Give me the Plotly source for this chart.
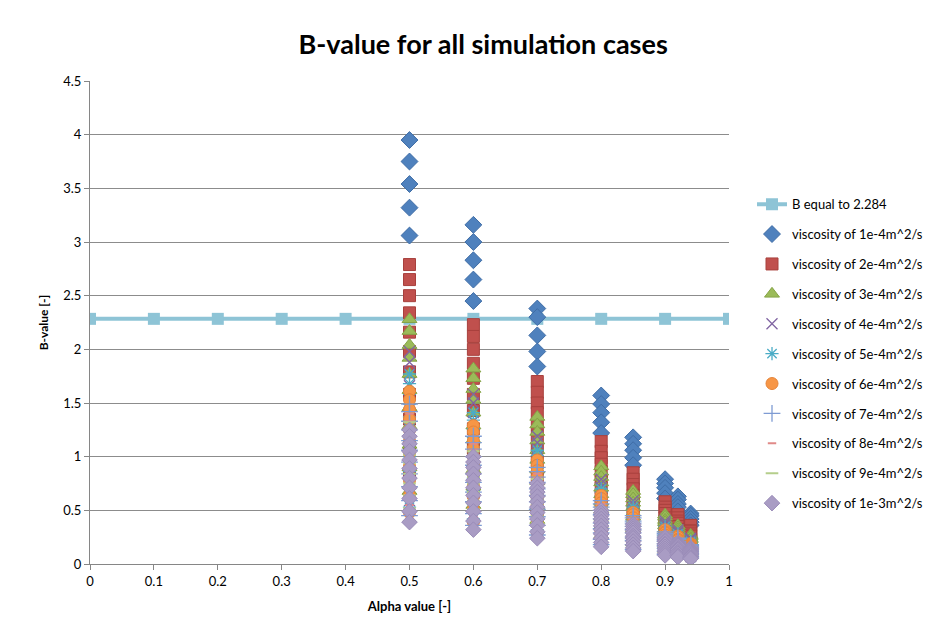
import plotly.graph_objects as go

# Alpha values at which the simulations were run
alpha_values = [0.5, 0.6, 0.7, 0.8, 0.85, 0.9, 0.92, 0.94]

# Reference line
ref_alpha = [0, 0.1, 0.2, 0.3, 0.4, 0.5, 0.6, 0.7, 0.8, 0.9, 1.0]
ref_b = [2.284] * len(ref_alpha)

# B-values per viscosity, one sub-list per alpha value (same order as alpha_values)
b_visc_1e4 = [
    [3.95, 3.75, 3.54, 3.32, 3.06],
    [3.16, 3.00, 2.83, 2.65, 2.45],
    [2.38, 2.30, 2.13, 1.98, 1.84],
    [1.57, 1.49, 1.41, 1.32, 1.22],
    [1.18, 1.12, 1.06, 0.99, 0.92],
    [0.79, 0.75, 0.71, 0.66, 0.61],
    [0.63, 0.60, 0.56, 0.53, 0.49],
    [0.47, 0.45, 0.42, 0.39, 0.36],
]
b_visc_2e4 = [
    [2.79, 2.65, 2.50, 2.34, 2.16, 1.98, 1.79, 1.58, 1.35, 1.10, 0.84],
    [2.23, 2.12, 2.00, 1.87, 1.73, 1.58, 1.43, 1.26, 1.08, 0.88, 0.67],
    [1.70, 1.60, 1.50, 1.41, 1.30, 1.19, 1.08, 0.95, 0.81, 0.66, 0.50],
    [1.14, 1.05, 0.99, 0.93, 0.86, 0.79, 0.71, 0.63, 0.54, 0.44, 0.33],
    [0.85, 0.79, 0.74, 0.70, 0.64, 0.59, 0.53, 0.47, 0.40, 0.33, 0.25],
    [0.58, 0.53, 0.50, 0.47, 0.43, 0.40, 0.36, 0.32, 0.27, 0.22, 0.17],
    [0.46, 0.43, 0.40, 0.38, 0.35, 0.32, 0.29, 0.25, 0.22, 0.18, 0.14],
    [0.36, 0.31, 0.30, 0.28, 0.26, 0.23, 0.21, 0.19, 0.16, 0.13, 0.10],
]
b_visc_3e4 = [
    [2.28, 2.17, 2.04, 1.92, 1.77, 1.62, 1.46, 1.29, 1.11, 0.90, 0.68],
    [1.82, 1.73, 1.63, 1.53, 1.41, 1.29, 1.16, 1.03, 0.88, 0.72, 0.55],
    [1.37, 1.30, 1.23, 1.15, 1.06, 0.97, 0.88, 0.77, 0.66, 0.54, 0.41],
    [0.91, 0.86, 0.81, 0.76, 0.71, 0.65, 0.58, 0.51, 0.44, 0.36, 0.27],
    [0.68, 0.65, 0.61, 0.57, 0.53, 0.48, 0.44, 0.38, 0.33, 0.27, 0.20],
    [0.46, 0.44, 0.41, 0.39, 0.36, 0.33, 0.29, 0.26, 0.22, 0.18, 0.14],
    [0.36, 0.34, 0.32, 0.30, 0.28, 0.26, 0.23, 0.20, 0.17, 0.14, 0.11],
    [0.27, 0.26, 0.24, 0.23, 0.21, 0.19, 0.17, 0.15, 0.13, 0.11, 0.08],
]
b_visc_4e4 = [
    [1.98, 1.88, 1.77, 1.66, 1.53, 1.41, 1.27, 1.12, 0.96, 0.78, 0.59],
    [1.58, 1.50, 1.41, 1.33, 1.22, 1.12, 1.01, 0.89, 0.77, 0.62, 0.47],
    [1.19, 1.13, 1.07, 1.00, 0.92, 0.84, 0.76, 0.67, 0.58, 0.47, 0.36],
    [0.79, 0.75, 0.71, 0.66, 0.61, 0.56, 0.51, 0.45, 0.38, 0.31, 0.24],
    [0.59, 0.56, 0.53, 0.50, 0.46, 0.42, 0.38, 0.33, 0.29, 0.23, 0.18],
    [0.40, 0.38, 0.36, 0.34, 0.31, 0.28, 0.26, 0.23, 0.19, 0.16, 0.12],
    [0.32, 0.30, 0.29, 0.27, 0.25, 0.23, 0.20, 0.18, 0.16, 0.13, 0.10],
    [0.24, 0.23, 0.21, 0.20, 0.19, 0.17, 0.15, 0.14, 0.12, 0.09, 0.07],
]
b_visc_5e4 = [
    [1.77, 1.68, 1.58, 1.49, 1.37, 1.26, 1.13, 1.00, 0.86, 0.70, 0.53],
    [1.41, 1.34, 1.26, 1.18, 1.09, 1.00, 0.90, 0.80, 0.68, 0.56, 0.42],
    [1.06, 1.01, 0.95, 0.89, 0.82, 0.75, 0.68, 0.60, 0.51, 0.42, 0.32],
    [0.70, 0.67, 0.63, 0.59, 0.54, 0.50, 0.45, 0.40, 0.34, 0.28, 0.21],
    [0.53, 0.50, 0.47, 0.45, 0.41, 0.38, 0.34, 0.30, 0.26, 0.21, 0.16],
    [0.35, 0.33, 0.31, 0.29, 0.27, 0.25, 0.22, 0.20, 0.17, 0.14, 0.10],
    [0.28, 0.27, 0.25, 0.24, 0.22, 0.20, 0.18, 0.16, 0.14, 0.11, 0.08],
    [0.21, 0.20, 0.19, 0.18, 0.16, 0.15, 0.13, 0.12, 0.10, 0.08, 0.06],
]
b_visc_6e4 = [
    [1.61, 1.53, 1.44, 1.35, 1.25, 1.14, 1.03, 0.91, 0.78, 0.64, 0.48],
    [1.29, 1.23, 1.15, 1.08, 1.00, 0.92, 0.83, 0.73, 0.63, 0.51, 0.39],
    [0.97, 0.92, 0.87, 0.81, 0.75, 0.69, 0.62, 0.55, 0.47, 0.38, 0.29],
    [0.64, 0.61, 0.57, 0.54, 0.50, 0.45, 0.41, 0.36, 0.31, 0.25, 0.19],
    [0.48, 0.46, 0.43, 0.40, 0.37, 0.34, 0.31, 0.27, 0.23, 0.19, 0.14],
    [0.32, 0.30, 0.29, 0.27, 0.25, 0.23, 0.20, 0.18, 0.16, 0.13, 0.10],
    [0.26, 0.25, 0.23, 0.22, 0.20, 0.18, 0.17, 0.15, 0.13, 0.10, 0.08],
    [0.19, 0.18, 0.17, 0.16, 0.15, 0.13, 0.12, 0.11, 0.09, 0.075, 0.06],
]
b_visc_7e4 = [
    [1.49, 1.42, 1.33, 1.25, 1.15, 1.06, 0.95, 0.84, 0.72, 0.59, 0.45],
    [1.19, 1.13, 1.07, 1.00, 0.92, 0.84, 0.76, 0.67, 0.58, 0.47, 0.36],
    [0.90, 0.86, 0.81, 0.76, 0.70, 0.64, 0.58, 0.51, 0.44, 0.36, 0.27],
    [0.59, 0.56, 0.53, 0.50, 0.46, 0.42, 0.38, 0.33, 0.29, 0.23, 0.18],
    [0.45, 0.43, 0.40, 0.38, 0.35, 0.32, 0.29, 0.25, 0.22, 0.18, 0.135],
    [0.30, 0.285, 0.27, 0.25, 0.23, 0.21, 0.19, 0.17, 0.145, 0.12, 0.09],
    [0.24, 0.23, 0.21, 0.20, 0.19, 0.17, 0.15, 0.14, 0.12, 0.095, 0.07],
    [0.18, 0.17, 0.16, 0.15, 0.14, 0.13, 0.115, 0.10, 0.09, 0.07, 0.055],
]
b_visc_8e4 = [
    [1.40, 1.33, 1.25, 1.18, 1.09, 0.99, 0.90, 0.79, 0.68, 0.55, 0.42],
    [1.12, 1.06, 1.00, 0.94, 0.87, 0.80, 0.72, 0.63, 0.54, 0.44, 0.34],
    [0.84, 0.80, 0.75, 0.71, 0.65, 0.60, 0.54, 0.47, 0.41, 0.33, 0.25],
    [0.56, 0.53, 0.50, 0.47, 0.43, 0.40, 0.36, 0.32, 0.27, 0.22, 0.17],
    [0.42, 0.40, 0.38, 0.35, 0.33, 0.30, 0.27, 0.24, 0.20, 0.17, 0.13],
    [0.28, 0.27, 0.25, 0.235, 0.22, 0.20, 0.18, 0.16, 0.135, 0.11, 0.085],
    [0.22, 0.21, 0.20, 0.185, 0.17, 0.155, 0.14, 0.125, 0.105, 0.087, 0.066],
    [0.17, 0.16, 0.15, 0.14, 0.13, 0.12, 0.11, 0.096, 0.082, 0.067, 0.051],
]
b_visc_9e4 = [
    [1.32, 1.25, 1.18, 1.11, 1.02, 0.94, 0.84, 0.75, 0.64, 0.52, 0.40],
    [1.05, 1.00, 0.94, 0.88, 0.81, 0.75, 0.67, 0.59, 0.51, 0.41, 0.32],
    [0.79, 0.75, 0.71, 0.66, 0.61, 0.56, 0.51, 0.45, 0.38, 0.31, 0.24],
    [0.52, 0.49, 0.47, 0.44, 0.40, 0.37, 0.33, 0.29, 0.25, 0.21, 0.16],
    [0.39, 0.37, 0.35, 0.33, 0.30, 0.28, 0.25, 0.22, 0.19, 0.15, 0.12],
    [0.26, 0.25, 0.23, 0.22, 0.20, 0.185, 0.17, 0.15, 0.126, 0.10, 0.08],
    [0.21, 0.20, 0.19, 0.18, 0.16, 0.15, 0.13, 0.12, 0.10, 0.083, 0.063],
    [0.16, 0.15, 0.14, 0.13, 0.124, 0.114, 0.10, 0.09, 0.078, 0.063, 0.048],
]
b_visc_1e3 = [
    [1.25, 1.19, 1.12, 1.05, 0.97, 0.89, 0.80, 0.71, 0.61, 0.49, 0.39],
    [1.00, 0.95, 0.90, 0.84, 0.78, 0.71, 0.64, 0.57, 0.49, 0.40, 0.32],
    [0.75, 0.71, 0.67, 0.63, 0.58, 0.53, 0.48, 0.42, 0.36, 0.30, 0.24],
    [0.50, 0.475, 0.45, 0.42, 0.39, 0.355, 0.32, 0.28, 0.24, 0.20, 0.16],
    [0.37, 0.35, 0.33, 0.31, 0.29, 0.26, 0.24, 0.21, 0.18, 0.15, 0.12],
    [0.25, 0.24, 0.22, 0.21, 0.19, 0.18, 0.16, 0.14, 0.12, 0.10, 0.08],
    [0.20, 0.19, 0.18, 0.17, 0.155, 0.14, 0.13, 0.11, 0.097, 0.079, 0.065],
    [0.15, 0.14, 0.134, 0.126, 0.116, 0.107, 0.096, 0.085, 0.073, 0.059, 0.05],
]

series_names = [
    "viscosity of 1e-4m^2/s", "viscosity of 2e-4m^2/s", "viscosity of 3e-4m^2/s",
    "viscosity of 4e-4m^2/s", "viscosity of 5e-4m^2/s", "viscosity of 6e-4m^2/s",
    "viscosity of 7e-4m^2/s", "viscosity of 8e-4m^2/s", "viscosity of 9e-4m^2/s",
    "viscosity of 1e-3m^2/s",
]
series_data = [b_visc_1e4, b_visc_2e4, b_visc_3e4, b_visc_4e4, b_visc_5e4,
               b_visc_6e4, b_visc_7e4, b_visc_8e4, b_visc_9e4, b_visc_1e3]

# marker style per series: (symbol, size, fill colour, outline colour, outline width)
marker_styles = [
    ("diamond", 13, "#4F81BD", "#3F6DA6", 1),
    ("square", 12, "#C0504D", "#A8403D", 1),
    ("triangle-up", 13, "#9BBB59", "#86A447", 1),
    ("x-thin-open", 11, "#8064A2", "#8064A2", 1.3),
    ("asterisk-open", 11, "#4BACC6", "#4BACC6", 1.3),
    ("circle", 12, "#F79646", "#E5843A", 1),
    ("cross-thin-open", 12, "#7E9BD3", "#7E9BD3", 1.3),
    ("line-ew-open", 6, "#E08A88", "#E08A88", 2),
    ("line-ew-open", 9, "#B5CE8B", "#B5CE8B", 2.2),
    ("diamond", 12, "#A99CC4", "#9A8CB8", 1),
]

FONT = "Lato, 'Open Sans', Arial, sans-serif"

fig = go.Figure()

fig.add_trace(go.Scatter(
    x=ref_alpha, y=ref_b, mode="lines+markers", name="B equal to 2.284",
    line=dict(color="#8EC4D6", width=4),
    marker=dict(symbol="square", size=12, color="#8EC4D6"),
    legendgroup="ref",
))

for name, data, (sym, size, col, lcol, lw) in zip(series_names, series_data, marker_styles):
    xs, ys = [], []
    for a, vals in zip(alpha_values, data):
        xs.extend([a] * len(vals))
        ys.extend(vals)
    fig.add_trace(go.Scatter(
        x=xs, y=ys, mode="markers", name=name, legendgroup=name,
        marker=dict(symbol=sym, size=size, color=col,
                    line=dict(color=lcol, width=lw)),
    ))

fig.update_layout(
    width=951, height=634,
    margin=dict(l=90, r=222, t=81, b=70),
    paper_bgcolor="white", plot_bgcolor="white",
    font=dict(family=FONT, size=12, color="#000000"),
    title=dict(text="<b>B-value for all simulation cases</b>",
               font=dict(size=27, color="#000000", family=FONT),
               x=0.508, xanchor="center", y=0.93, yanchor="middle"),
    showlegend=True,
    legend=dict(x=1.036, xanchor="left", y=0.776, yanchor="top",
                font=dict(size=13, color="#000000", family=FONT),
                traceorder="grouped", tracegroupgap=10,
                bgcolor="rgba(0,0,0,0)", itemwidth=30),
    xaxis=dict(range=[0, 1], tickmode="array",
               tickvals=[0, 0.1, 0.2, 0.3, 0.4, 0.5, 0.6, 0.7, 0.8, 0.9, 1],
               ticktext=["0", "0.1", "0.2", "0.3", "0.4", "0.5", "0.6", "0.7", "0.8", "0.9", "1"],
               showgrid=False, zeroline=False, showline=True, linecolor="#868686", linewidth=1,
               ticks="outside", ticklen=5, tickcolor="#868686",
               tickfont=dict(size=13, color="#000000"),
               title=dict(text="<b>Alpha value [-]</b>", font=dict(size=13), standoff=14)),
    yaxis=dict(range=[0, 4.5], tickmode="array",
               tickvals=[0, 0.5, 1, 1.5, 2, 2.5, 3, 3.5, 4, 4.5],
               ticktext=["0", "0.5", "1", "1.5", "2", "2.5", "3", "3.5", "4", "4.5"],
               showgrid=True, gridcolor="#8C8C8C", gridwidth=1,
               zeroline=False, showline=True, linecolor="#868686", linewidth=1,
               ticks="outside", ticklen=5, tickcolor="#868686",
               tickfont=dict(size=13, color="#000000"),
               title=dict(text="<b>B-value [-]</b>", font=dict(size=12), standoff=12)),
)

fig.write_html("out.html")
